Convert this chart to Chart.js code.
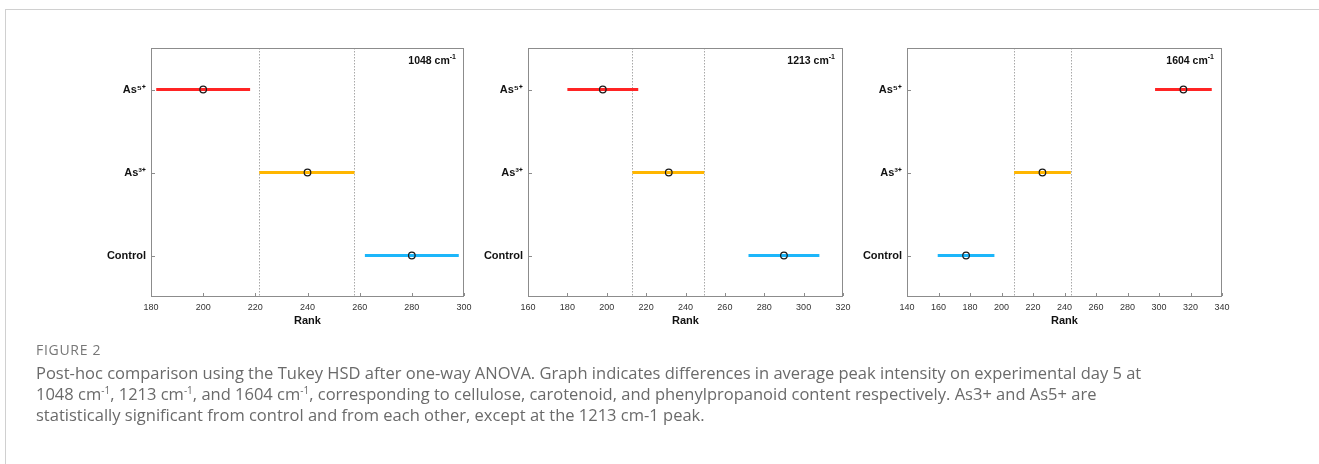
<!DOCTYPE html>
<html><head><meta charset="utf-8">
<script src="https://cdn.jsdelivr.net/npm/chart.js@4"></script>
<style>
html,body{margin:0;padding:0;background:#fff;width:1319px;height:464px;overflow:hidden;position:relative;}
#frame{position:absolute;left:5px;top:9px;width:1330px;height:470px;border-left:1px solid #d0d0d0;border-top:1px solid #d0d0d0;}
canvas{position:absolute;left:0;top:0;}
#fig{position:absolute;left:36px;top:340px;font-family:'Open Sans',sans-serif;font-size:14px;color:#777;letter-spacing:0.7px;white-space:nowrap;}
#cap{position:absolute;left:36px;top:362px;font-family:'Open Sans',sans-serif;font-size:16.5px;line-height:21px;color:#6a6a6a;white-space:nowrap;}
#cap sup{font-size:10px;line-height:0;}
</style></head><body>
<div id="frame"></div>
<canvas id="c0" width="1319" height="464"></canvas>
<canvas id="c1" width="1319" height="464"></canvas>
<canvas id="c2" width="1319" height="464"></canvas>
<div id="fig">FIGURE 2</div>
<div id="cap">Post-hoc comparison using the Tukey HSD after one-way ANOVA. Graph indicates differences in average peak intensity on experimental day 5 at<br>1048 cm<sup>-1</sup>, 1213 cm<sup>-1</sup>, and 1604 cm<sup>-1</sup>, corresponding to cellulose, carotenoid, and phenylpropanoid content respectively. As3+ and As5+ are<br>statistically significant from control and from each other, except at the 1213 cm-1 peak.</div>
<script>
// ---- data ----
const categories = ['As5+', 'As3+', 'Control'];
const categoryLabels = ['As\u2075\u207A', 'As\u00B3\u207A', 'Control'];
const peaks = ['1048', '1213', '1604'];
const xMin = [180, 160, 140];
const xMax = [300, 320, 340];
const xStep = [20, 20, 20];
const groupColors = ['#ff2424', '#ffb600', '#1cb6fa'];

const means1048 = [200, 240, 280];
const lower1048 = [182, 221.5, 262];
const upper1048 = [218, 258, 298];

const means1213 = [198, 231.5, 290];
const lower1213 = [180, 213, 272];
const upper1213 = [216, 249.5, 308];

const means1604 = [315.5, 226, 177.5];
const lower1604 = [297.5, 208, 159.5];
const upper1604 = [333.5, 244, 195.5];

const panelMeans = [means1048, means1213, means1604];
const panelLower = [lower1048, lower1213, lower1604];
const panelUpper = [upper1048, upper1213, upper1604];
const refGroup = 1; // dotted lines drawn at the As3+ interval

// ---- layout ----
const W = 1319, H = 464;
const areaLeft = [151, 528, 907];
const areaRight = [464, 843, 1222];
const areaTop = 48, areaBottom = 297, axisBottom = 328;

Chart.defaults.font.family = "'Liberation Sans', Arial, sans-serif";

function makePanel(p) {
  const datasets = [];
  categories.forEach((c, i) => {
    datasets.push({
      type: 'line',
      data: [{x: panelLower[p][i], y: c}, {x: panelUpper[p][i], y: c}],
      borderColor: groupColors[i], borderWidth: 3, borderCapStyle: 'butt',
      pointRadius: 0, fill: false, order: 2
    });
  });
  datasets.push({
    type: 'line', showLine: false,
    data: categories.map((c, i) => ({x: panelMeans[p][i], y: c})),
    pointStyle: 'circle', pointRadius: 3.3, pointBorderWidth: 1.2,
    pointBorderColor: '#1a1a1a', pointBackgroundColor: 'rgba(0,0,0,0)', order: 1
  });

  const decor = {
    id: 'decor' + p,
    beforeDatasetsDraw(chart) {
      const ctx = chart.ctx, a = chart.chartArea, xs = chart.scales.x;
      ctx.save();
      ctx.strokeStyle = '#a8a8a8'; ctx.lineWidth = 1; ctx.setLineDash([1.5, 1.5]);
      [panelLower[p][refGroup], panelUpper[p][refGroup]].forEach(v => {
        const x = Math.round(xs.getPixelForValue(v)) + 0.5;
        ctx.beginPath(); ctx.moveTo(x, a.top); ctx.lineTo(x, a.bottom); ctx.stroke();
      });
      ctx.setLineDash([]);
      ctx.restore();
    },
    afterDatasetsDraw(chart) {
      const ctx = chart.ctx, a = chart.chartArea, xs = chart.scales.x, ys = chart.scales.y;
      ctx.save();
      ctx.strokeStyle = '#8c8c8c'; ctx.lineWidth = 1;
      ctx.strokeRect(a.left + 0.5, a.top + 0.5, a.right - a.left - 1, a.bottom - a.top - 1);
      ctx.beginPath();
      xs.ticks.forEach(t => {
        const x = Math.round(xs.getPixelForValue(t.value)) + 0.5;
        ctx.moveTo(x, a.bottom - 1); ctx.lineTo(x, a.bottom - 4);
      });
      categories.forEach((c, i) => {
        const y = Math.round(ys.getPixelForValue(i)) + 0.5;
        ctx.moveTo(a.left + 1, y); ctx.lineTo(a.left + 4, y);
      });
      ctx.stroke();
      const main = peaks[p] + ' cm', sup = '-1';
      ctx.fillStyle = '#111';
      ctx.font = "bold 10.5px 'Liberation Sans', Arial, sans-serif";
      const wMain = ctx.measureText(main).width;
      ctx.font = "bold 7px 'Liberation Sans', Arial, sans-serif";
      const wSup = ctx.measureText(sup).width;
      const xEnd = a.right - 8, yBase = 64;
      ctx.textBaseline = 'alphabetic'; ctx.textAlign = 'left';
      ctx.fillText(sup, xEnd - wSup, yBase - 5);
      ctx.font = "bold 10.5px 'Liberation Sans', Arial, sans-serif";
      ctx.fillText(main, xEnd - wSup - wMain, yBase);
      ctx.restore();
    }
  };

  return new Chart(document.getElementById('c' + p), {
    type: 'line',
    data: {labels: categories, datasets},
    options: {
      responsive: false, animation: false, devicePixelRatio: 1,
      layout: {padding: {left: 0, top: areaTop, right: W - areaRight[p], bottom: H - axisBottom}},
      plugins: {legend: {display: false}, tooltip: {enabled: false}},
      scales: {
        x: {
          type: 'linear', min: xMin[p], max: xMax[p],
          afterFit: s => { s.height = axisBottom - areaBottom; },
          ticks: {stepSize: xStep[p], color: '#333', font: {size: 9}, padding: 5, maxRotation: 0, autoSkip: false},
          grid: {display: false, drawTicks: false},
          border: {display: false},
          title: {display: true, text: 'Rank', color: '#111', font: {size: 11, weight: 'bold'}, padding: 0}
        },
        y: {
          type: 'category', labels: categories, offset: true,
          afterFit: s => { s.width = areaLeft[p]; },
          ticks: {color: '#111', font: {size: 11, weight: 'bold'}, padding: 5,
                  callback: (v, i) => categoryLabels[i]},
          grid: {display: false, drawTicks: false},
          border: {display: false}
        }
      }
    },
    plugins: [decor]
  });
}
[0, 1, 2].forEach(makePanel);
</script>
</body></html>
